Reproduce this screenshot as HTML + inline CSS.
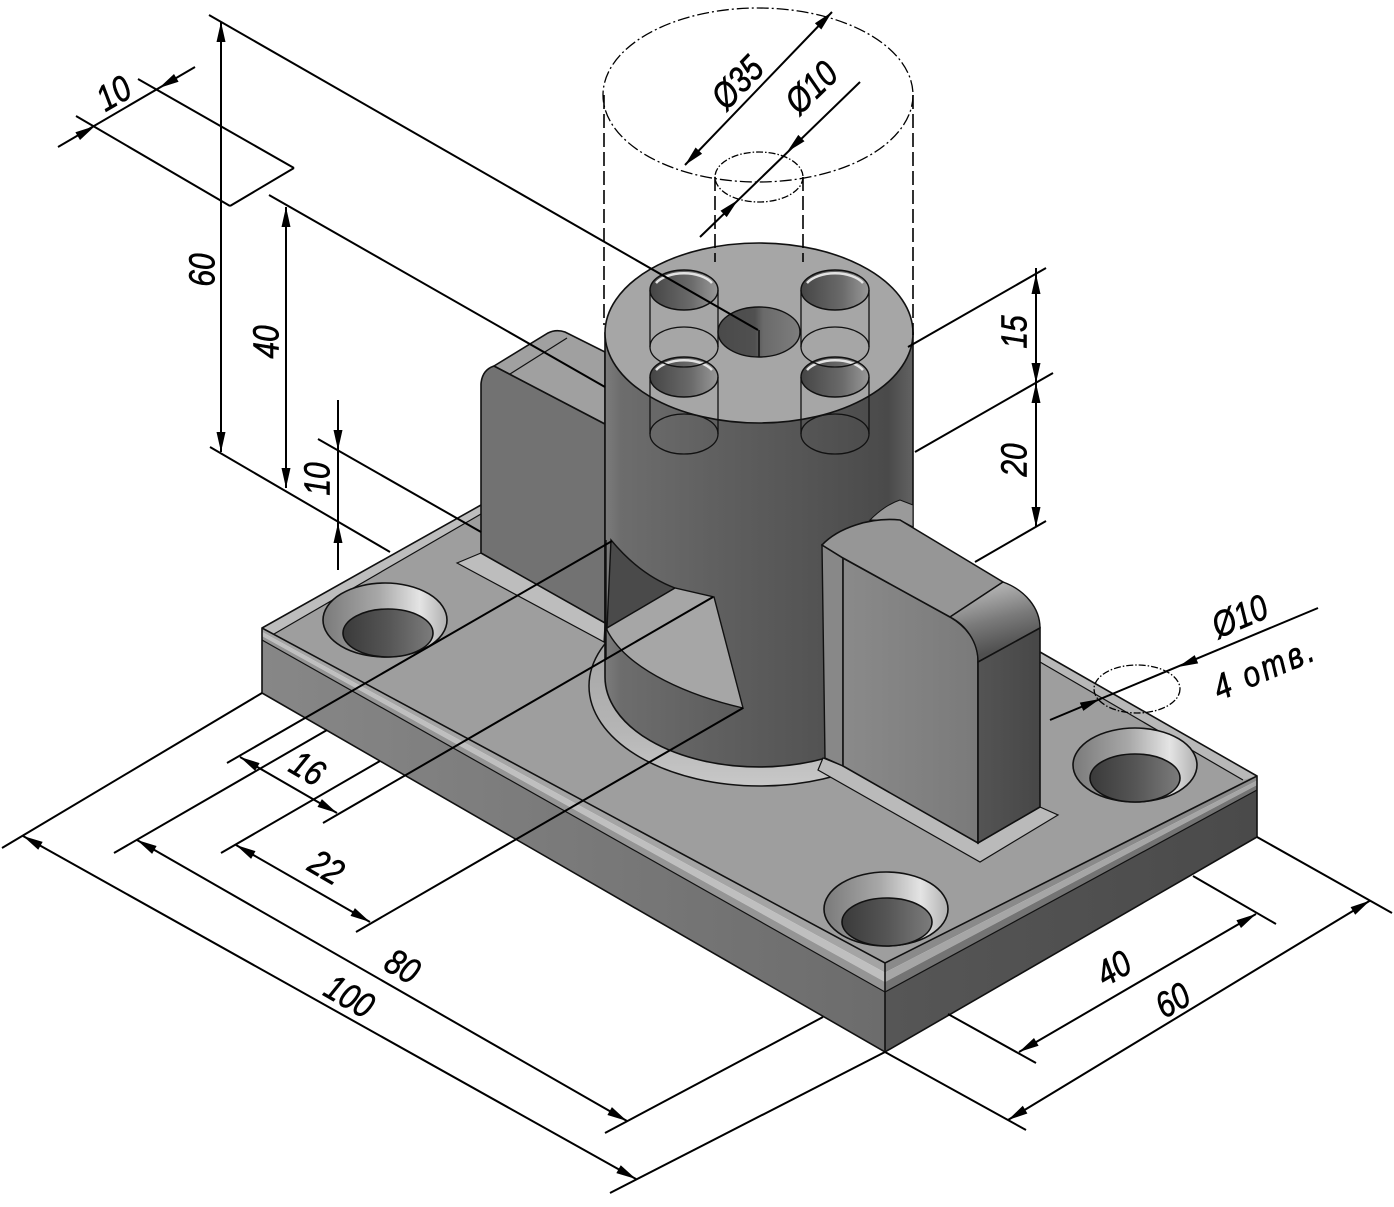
<!DOCTYPE html>
<html><head><meta charset="utf-8">
<style>
html,body{margin:0;padding:0;background:#fff;}
svg{display:block;}
text{font-family:"Liberation Sans",sans-serif;font-style:italic;font-size:30px;fill:#000;stroke:#000;stroke-width:0.5px;}
</style></head><body>
<svg width="1394" height="1207" viewBox="0 0 1394 1207" xmlns="http://www.w3.org/2000/svg">
<defs>
<linearGradient id="gPlateL" x1="0" y1="0" x2="1" y2="0"><stop offset="0" stop-color="#878787"/><stop offset="1" stop-color="#6c6c6c"/></linearGradient>
<linearGradient id="gPlateR" x1="0" y1="0" x2="1" y2="0"><stop offset="0" stop-color="#565656"/><stop offset="1" stop-color="#4a4a4a"/></linearGradient>
<linearGradient id="gCyl" x1="0" y1="0" x2="1" y2="0">
<stop offset="0" stop-color="#7c7c7c"/><stop offset="0.05" stop-color="#6d6d6d"/><stop offset="0.35" stop-color="#606060"/><stop offset="0.65" stop-color="#555"/><stop offset="0.92" stop-color="#4a4a4a"/><stop offset="1" stop-color="#626262"/></linearGradient>
<linearGradient id="gRing" x1="0" y1="0" x2="0" y2="1"><stop offset="0" stop-color="#9c9c9c"/><stop offset="0.7" stop-color="#b4b4b4"/><stop offset="1" stop-color="#c8c8c8"/></linearGradient>
<linearGradient id="gRibF" x1="0" y1="0" x2="1" y2="0"><stop offset="0" stop-color="#8a8a8a"/><stop offset="1" stop-color="#7a7a7a"/></linearGradient>
<linearGradient id="gRibE" x1="0" y1="0" x2="1" y2="0"><stop offset="0" stop-color="#545454"/><stop offset="1" stop-color="#474747"/></linearGradient>
<linearGradient id="gRound" gradientUnits="userSpaceOnUse" x1="985" y1="590" x2="1000" y2="650"><stop offset="0" stop-color="#b0b0b0"/><stop offset="0.5" stop-color="#7a7a7a"/><stop offset="1" stop-color="#505050"/></linearGradient>
<linearGradient id="gCsk" x1="0" y1="0" x2="1" y2="0"><stop offset="0" stop-color="#7a7a7a"/><stop offset="0.45" stop-color="#a8a8a8"/><stop offset="0.78" stop-color="#e4e4e4"/><stop offset="1" stop-color="#b0b0b0"/></linearGradient>
<linearGradient id="gBore" x1="0" y1="0" x2="1" y2="0"><stop offset="0" stop-color="#3a3a3a"/><stop offset="0.5" stop-color="#555"/><stop offset="1" stop-color="#7c7c7c"/></linearGradient>
<linearGradient id="gHole" x1="0" y1="0" x2="1" y2="0"><stop offset="0" stop-color="#454545"/><stop offset="0.6" stop-color="#6a6a6a"/><stop offset="1" stop-color="#999"/></linearGradient>
<linearGradient id="gCHole" x1="0" y1="0" x2="1" y2="0"><stop offset="0" stop-color="#4a4a4a"/><stop offset="0.45" stop-color="#505050"/><stop offset="0.55" stop-color="#6a6a6a"/><stop offset="1" stop-color="#7e7e7e"/></linearGradient>
</defs>

<!-- ============ PLATE ============ -->
<polygon points="262,628 885,963 1257,776 633,420" fill="#9e9e9e"/>
<polygon points="262,628 481,505 481,514 274,634" fill="#bdbdbd"/>
<polygon points="1040,652 1257,776 1243,780 1040,662" fill="#b8b8b8"/>
<polygon points="262,640 885,992 885,1052 262,693" fill="url(#gPlateL)"/>
<polygon points="262,628 885,963 885,972.6 262,632" fill="#a4a4a4"/>
<polygon points="262,632 885,972.6 885,982 262,636" fill="#bfbfbf"/>
<polygon points="262,636 885,982 885,992 262,640" fill="#959595"/>
<polygon points="885,992 1257,790 1257,837 885,1052" fill="url(#gPlateR)"/>
<polygon points="885,963 1257,776 1257,780.6 885,972.6" fill="#8a8a8a"/>
<polygon points="885,972.6 1257,780.6 1257,785 885,982" fill="#a6a6a6"/>
<polygon points="885,982 1257,785 1257,790 885,992" fill="#747474"/>
<g fill="none" stroke="#111" stroke-width="1.6">
<polyline points="481,505 262,628 262,693 885,1052 1257,837 1257,776 1040,652"/>
<line x1="885" y1="963" x2="885" y2="1052"/>
<polyline points="262,628 885,963 1257,776"/>
<polyline points="262,640 885,992 1257,790" stroke-width="1.2"/>
<line x1="274" y1="634" x2="481" y2="514" stroke-width="1.2"/>
<line x1="1040" y1="662" x2="1243" y2="780" stroke-width="1.2"/>
</g>

<!-- plate holes -->
<ellipse cx="385" cy="620" rx="62" ry="37" fill="url(#gCsk)" stroke="#111" stroke-width="1.6"/>
<ellipse cx="388" cy="633" rx="45" ry="24" fill="url(#gBore)" stroke="#111" stroke-width="1.6"/>
<ellipse cx="886" cy="909" rx="62" ry="37" fill="url(#gCsk)" stroke="#111" stroke-width="1.6"/>
<ellipse cx="887" cy="922" rx="45" ry="24" fill="url(#gBore)" stroke="#111" stroke-width="1.6"/>
<ellipse cx="1135" cy="765" rx="62" ry="37" fill="url(#gCsk)" stroke="#111" stroke-width="1.6"/>
<ellipse cx="1135" cy="778" rx="45" ry="24" fill="url(#gBore)" stroke="#111" stroke-width="1.6"/>

<!-- ============ LEFT RIB ============ -->
<polygon points="457,563 481,553 605,623 604,642" fill="#bdbdbd" stroke="#111" stroke-width="1.2"/>
<path d="M481,553 L481,384 Q482,370 494,366 L605,424 L605,623 Z" fill="#727272" stroke="#111" stroke-width="1.6"/>
<path d="M494,366 L548,333 Q556,329 565,332 L605,352 L605,424 Z" fill="#a0a0a0" stroke="#111" stroke-width="1.6"/>
<line x1="510" y1="374" x2="567" y2="338" stroke="#111" stroke-width="1.2"/>

<!-- ============ CYLINDER ============ -->
<ellipse cx="760" cy="686" rx="171" ry="100" fill="url(#gRing)" stroke="#111" stroke-width="1.5"/>
<path d="M605,333 L605,677 A154,90 0 0 0 913,677 L913,333 Z" fill="url(#gCyl)" stroke="#111" stroke-width="1.6"/>
<!-- notch -->
<path d="M611,540 Q640,575 675,588 L607,628 Z" fill="#4a4a4a" stroke="#111" stroke-width="1.4"/>
<path d="M607,628 L675,588 L714,597 L743,708 C695,697 628,672 607,630 Z" fill="#a6a6a6" stroke="#111" stroke-width="1.4"/>
<line x1="606" y1="540" x2="606" y2="660" stroke="#111" stroke-width="1.4"/>

<!-- ============ RIGHT RIB ============ -->
<polygon points="823,758 843,766 978,843 1040,807 1058,815 980,862 818,770" fill="#bababa" stroke="#111" stroke-width="1.2"/>
<path d="M870,520 Q885,505 900,500 L913,505 L913,527 L900,520 Z" fill="#9a9a9a" stroke="#111" stroke-width="1"/>
<polygon points="822,545 843,558 843,766 825,758" fill="#888" stroke="#111" stroke-width="1.4"/>
<path d="M843,558 L950,617 C965,626 978,640 978,660 L978,843 L843,766 Z" fill="url(#gRibF)" stroke="#111" stroke-width="1.6"/>
<path d="M822,545 C838,528 870,517 900,520 L1003,582 L950,617 L843,558 Z" fill="#969696" stroke="#111" stroke-width="1.6"/>
<path d="M950,617 L1003,582 C1025,590 1040,608 1040,628 L978,662 C978,642 966,625 950,617 Z" fill="url(#gRound)" stroke="#111" stroke-width="1.4"/>
<polygon points="978,662 1040,628 1040,807 978,843" fill="url(#gRibE)" stroke="#111" stroke-width="1.6"/>

<!-- ============ CYLINDER TOP ============ -->
<ellipse cx="759" cy="333" rx="154" ry="90" fill="#a6a6a6" stroke="#111" stroke-width="1.6"/>
<ellipse cx="759" cy="332" rx="41" ry="25" fill="url(#gCHole)" stroke="#111" stroke-width="1.4"/>
<line x1="759" y1="330" x2="759" y2="357" stroke="#111" stroke-width="1.6"/>

<g stroke="#111" stroke-width="1.4">
<ellipse cx="684" cy="290" rx="34" ry="20" fill="url(#gHole)"/>
<ellipse cx="835" cy="290" rx="34" ry="20" fill="url(#gHole)"/>
<ellipse cx="684" cy="377" rx="34" ry="20" fill="url(#gHole)"/>
<ellipse cx="835" cy="377" rx="34" ry="20" fill="url(#gHole)"/>
</g>
<g fill="none" stroke="#e2e2e2" stroke-width="2.5">
<path d="M656,283 A31,17 0 0 1 712,283"/>
<path d="M807,283 A31,17 0 0 1 863,283"/>
<path d="M656,370 A31,17 0 0 1 712,370"/>
<path d="M807,370 A31,17 0 0 1 863,370"/>
</g>
<g fill="none" stroke="#111" stroke-width="1.3">
<ellipse cx="684" cy="347" rx="34" ry="20"/>
<ellipse cx="835" cy="347" rx="34" ry="20"/>
<ellipse cx="684" cy="434" rx="34" ry="20"/>
<ellipse cx="835" cy="434" rx="34" ry="20"/>
<line x1="650" y1="290" x2="650" y2="347"/><line x1="718" y1="290" x2="718" y2="347"/>
<line x1="801" y1="290" x2="801" y2="347"/><line x1="869" y1="290" x2="869" y2="347"/>
<line x1="650" y1="377" x2="650" y2="434"/><line x1="718" y1="377" x2="718" y2="434"/>
<line x1="801" y1="377" x2="801" y2="434"/><line x1="869" y1="377" x2="869" y2="434"/>
</g>

<!-- ============ CENTER / PROJECTION LINES ============ -->
<g fill="none" stroke="#000" stroke-width="1.3">
<ellipse cx="758" cy="95" rx="155" ry="87" stroke-dasharray="12,3,2,3"/>
<ellipse cx="759" cy="177" rx="44" ry="25" stroke-dasharray="7,2,1.5,2"/>
<ellipse cx="1137" cy="689" rx="43" ry="24" stroke-dasharray="7,2,1.5,2"/>
<line x1="604" y1="95" x2="604" y2="325" stroke-dasharray="14,5" stroke-width="1.6"/>
<line x1="913" y1="95" x2="913" y2="335" stroke-dasharray="14,5" stroke-width="1.6"/>
<line x1="715" y1="177" x2="715" y2="262" stroke-dasharray="14,5" stroke-width="1.6"/>
<line x1="803" y1="177" x2="803" y2="262" stroke-dasharray="14,5" stroke-width="1.6"/>
</g>

<!-- ============ DIMENSION LINES ============ -->
<g stroke="#000" stroke-width="2" fill="none">
<line x1="221" y1="22" x2="221" y2="452"/>
<line x1="209" y1="15" x2="758" y2="330"/>
<line x1="58" y1="147" x2="195" y2="67"/>
<line x1="76" y1="116" x2="230" y2="206"/>
<line x1="138" y1="79" x2="294" y2="168"/>
<line x1="230" y1="206" x2="294" y2="168"/>
<line x1="286" y1="207" x2="286" y2="488"/>
<line x1="269" y1="195" x2="605" y2="387"/>
<line x1="338" y1="400" x2="338" y2="570"/>
<line x1="210" y1="447" x2="390" y2="552"/>
<line x1="318" y1="439" x2="481" y2="532"/>
<line x1="685" y1="165" x2="832" y2="12"/>
<line x1="700" y1="237" x2="860" y2="82"/>
<line x1="1036" y1="268" x2="1036" y2="527"/>
<line x1="908" y1="347" x2="1046" y2="268"/>
<line x1="915" y1="452" x2="1053" y2="373"/>
<line x1="975" y1="562" x2="1046" y2="521"/>
<line x1="1050" y1="720" x2="1318" y2="608"/>
<line x1="23" y1="836" x2="636" y2="1179"/>
<line x1="262" y1="693" x2="2" y2="848"/>
<line x1="885" y1="1052" x2="610" y2="1193"/>
<line x1="137" y1="840" x2="627" y2="1121"/>
<line x1="114" y1="853" x2="327" y2="730"/>
<line x1="823" y1="1017" x2="605" y2="1133"/>
<line x1="236" y1="845" x2="370" y2="922"/>
<line x1="221" y1="853" x2="380" y2="761"/>
<line x1="356" y1="932" x2="743" y2="708"/>
<line x1="240" y1="757" x2="337" y2="813"/>
<line x1="227" y1="763" x2="612" y2="541"/>
<line x1="323" y1="823" x2="713" y2="597"/>
<line x1="1019" y1="1052" x2="1256" y2="914"/>
<line x1="948" y1="1014" x2="1036" y2="1063"/>
<line x1="1193" y1="876" x2="1276" y2="924"/>
<line x1="1008" y1="1120" x2="1370" y2="900.6"/>
<line x1="885" y1="1052" x2="1026" y2="1130"/>
<line x1="1257" y1="837" x2="1392" y2="913"/>
</g>

<!-- arrowheads -->
<g fill="#000" stroke="none">
<polygon points="221,22 216.5,42 225.5,42"/>
<polygon points="221,452 216.5,432 225.5,432"/>
<polygon points="286,207 281.5,227 290.5,227"/>
<polygon points="286,488 281.5,468 290.5,468"/>
<polygon points="338,450 333.5,430 342.5,430"/>
<polygon points="338,523 333.5,543 342.5,543"/>
<polygon points="1036,274 1031.5,294 1040.5,294"/>
<polygon points="1036,383 1031.5,363 1040.5,363"/>
<polygon points="1036,383 1031.5,403 1040.5,403"/>
<polygon points="1036,527 1031.5,507 1040.5,507"/>
<polygon points="95,126 80,140 75.4,132.2"/>
<polygon points="159,88 178.6,81.8 174,74"/>
<polygon points="832,12 821.3,29.5 814.9,23.3"/>
<polygon points="685,165 702.1,153.7 695.6,147.5"/>
<polygon points="738,200 726.7,217.1 720.5,210.7"/>
<polygon points="787,152 804.5,141.3 798.3,134.9"/>
<polygon points="1100,699 1083.3,710.9 1079.8,702.6"/>
<polygon points="1178,667 1198.2,663.4 1194.7,655.1"/>
<polygon points="23,836 38.25,849.7 42.65,841.84"/>
<polygon points="636,1179 616.35,1173.16 620.75,1165.3"/>
<polygon points="137,840 152.1,853.85 156.6,846.05"/>
<polygon points="627,1121 607.4,1114.95 611.9,1107.15"/>
<polygon points="236,845 251.1,858.9 255.5,851.1"/>
<polygon points="370,922 350.5,915.9 354.9,908.1"/>
<polygon points="240,757 255.1,770.9 259.6,763.1"/>
<polygon points="337,813 317.5,806.9 321.9,799.1"/>
<polygon points="1256,914 1241,928 1236.4,920.2"/>
<polygon points="1019,1052 1038.6,1045.8 1034,1038"/>
<polygon points="1370,900.6 1355.2,914.8 1350.6,907.1"/>
<polygon points="1008,1120 1027.4,1113.5 1022.8,1105.8"/>
</g>

<!-- ============ TEXT ============ -->
<g text-anchor="middle" dominant-baseline="central">
<text transform="translate(114,94) rotate(-30) scale(1,1.2)">10</text>
<text transform="translate(203,270) rotate(-90) scale(1,1.2)">60</text>
<text transform="translate(267,342) rotate(-90) scale(1,1.2)">40</text>
<text transform="translate(318,479) rotate(-90) scale(1,1.2)">10</text>
<text transform="translate(738,83) rotate(-46) scale(1,1.2)">Ø35</text>
<text transform="translate(812,88) rotate(-44) scale(1,1.2)">Ø10</text>
<text transform="translate(1015,332) rotate(-90) scale(1,1.2)">15</text>
<text transform="translate(1015,460) rotate(-90) scale(1,1.2)">20</text>
<text transform="translate(1240,617) rotate(-23) scale(1,1.2)">Ø10</text>
<text transform="translate(1265,669) rotate(-23) scale(1,1.2)" letter-spacing="3">4 отв.</text>
<text transform="translate(307,769) rotate(30) scale(1,1.2)">16</text>
<text transform="translate(326,868) rotate(30) scale(1,1.2)">22</text>
<text transform="translate(402,967) rotate(30) scale(1,1.2)">80</text>
<text transform="translate(349,997) rotate(30) scale(1,1.2)">100</text>
<text transform="translate(1114,969) rotate(-30) scale(1,1.2)">40</text>
<text transform="translate(1173,1001) rotate(-30) scale(1,1.2)">60</text>
</g>
</svg>
</body></html>
